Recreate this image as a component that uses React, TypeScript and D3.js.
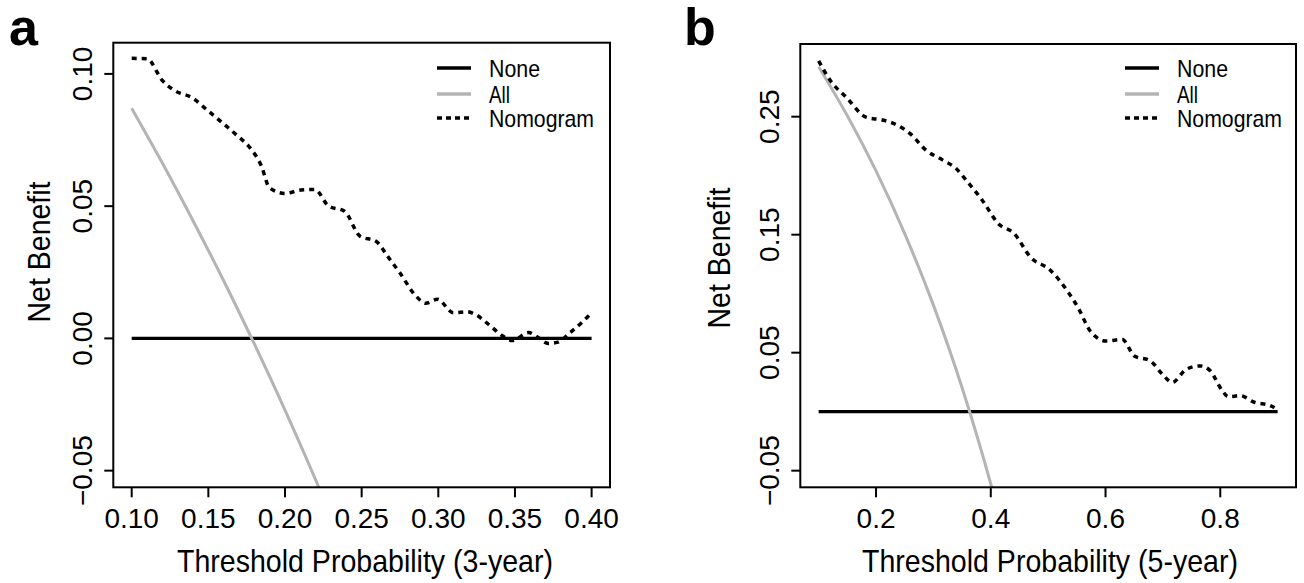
import React, { useEffect, useRef } from 'react'
import * as d3 from 'd3'

// 3-year panel (a)
const nomoAThreshold = [0.1, 0.11, 0.12, 0.128, 0.14, 0.1485, 0.159, 0.169, 0.177, 0.1846, 0.1898, 0.2, 0.2104, 0.2195, 0.2285, 0.2388, 0.249, 0.2594, 0.267, 0.275, 0.2853, 0.2917, 0.2994, 0.3098, 0.3188, 0.324, 0.334, 0.342, 0.3485, 0.3588, 0.3652, 0.3717, 0.378, 0.386, 0.3936, 0.4]
const nomoABenefit = [0.1059, 0.1057, 0.0975, 0.0937, 0.0908, 0.0867, 0.0816, 0.0766, 0.0722, 0.0652, 0.057, 0.0548, 0.0561, 0.0563, 0.05, 0.0481, 0.0386, 0.0367, 0.031, 0.0247, 0.0161, 0.0133, 0.0148, 0.0097, 0.0101, 0.0091, 0.0047, 0.0009, -0.0008, 0.0022, 0.0003, -0.0019, -0.0014, 0.0022, 0.006, 0.0097]
const allAThreshold = [0.1, 0.12, 0.14, 0.16, 0.18, 0.2, 0.22, 0.24]
const allABenefit = [0.087, 0.0663, 0.0445, 0.0218, -0.0021, -0.0271, -0.0535, -0.0812]
const noneAThreshold = [0.1, 0.4]
const noneABenefit = [0, 0]
const xTicksA = [0.1, 0.15, 0.2, 0.25, 0.3, 0.35, 0.4]
const yTicksA = [-0.05, 0, 0.05, 0.1]

// 5-year panel (b)
const nomoBThreshold = [0.1, 0.1206, 0.1484, 0.1833, 0.2111, 0.239, 0.2599, 0.2878, 0.3157, 0.34, 0.3575, 0.3854, 0.4132, 0.4411, 0.469, 0.5038, 0.5317, 0.5526, 0.5735, 0.6014, 0.6293, 0.6502, 0.6781, 0.699, 0.7164, 0.7408, 0.7652, 0.7826, 0.8035, 0.814, 0.835, 0.8593, 0.8871, 0.9]
const nomoBBenefit = [0.2973, 0.2804, 0.2663, 0.2494, 0.2472, 0.2424, 0.2354, 0.2213, 0.2134, 0.2058, 0.1959, 0.179, 0.1593, 0.1508, 0.1311, 0.1199, 0.1035, 0.0878, 0.0682, 0.0598, 0.0612, 0.0472, 0.043, 0.0318, 0.0248, 0.036, 0.0388, 0.0346, 0.0178, 0.0127, 0.0136, 0.008, 0.0052, 0.0015]
const allBThreshold = [0.1, 0.15, 0.2, 0.25, 0.3, 0.35, 0.4, 0.42]
const allBBenefit = [0.2924, 0.2508, 0.204, 0.1509, 0.0903, 0.0203, -0.0613, -0.0979]
const noneBThreshold = [0.1, 0.9]
const noneBBenefit = [0, 0]
const xTicksB = [0.2, 0.4, 0.6, 0.8]
const yTicksB = [-0.05, 0.05, 0.15, 0.25]

const legendLabels = ['None', 'All', 'Nomogram']

const FONT = '"Liberation Sans", Arial, Helvetica, sans-serif'

function drawPanel(svg, p) {
  const x = d3.scaleLinear().domain(p.xDomain).range([p.left, p.right])
  const y = d3.scaleLinear().domain(p.yDomain).range([p.bottom, p.top])
  const g = svg.append('g')

  // clip
  g.append('defs')
    .append('clipPath')
    .attr('id', 'clip-' + p.id)
    .append('rect')
    .attr('x', p.left)
    .attr('y', p.top)
    .attr('width', p.right - p.left)
    .attr('height', p.bottom - p.top)

  const line = d3
    .line()
    .x((d) => x(d[0]))
    .y((d) => y(d[1]))
    .curve(d3.curveMonotoneX)

  const plot = g.append('g').attr('clip-path', `url(#clip-${p.id})`)
  plot
    .append('path')
    .attr('d', line(d3.zip(p.noneX, p.noneY)))
    .attr('fill', 'none')
    .attr('stroke', '#000')
    .attr('stroke-width', 3.2)
  plot
    .append('path')
    .attr('d', line(d3.zip(p.allX, p.allY)))
    .attr('fill', 'none')
    .attr('stroke', '#b4b4b4')
    .attr('stroke-width', 3)
  plot
    .append('path')
    .attr('d', line(d3.zip(p.nomoX, p.nomoY)))
    .attr('fill', 'none')
    .attr('stroke', '#000')
    .attr('stroke-width', 3.5)
    .attr('stroke-dasharray', '5,5')

  // box
  g.append('rect')
    .attr('x', p.left)
    .attr('y', p.top)
    .attr('width', p.right - p.left)
    .attr('height', p.bottom - p.top)
    .attr('fill', 'none')
    .attr('stroke', '#000')
    .attr('stroke-width', 2)

  // x axis
  p.xTicks.forEach((t) => {
    g.append('line')
      .attr('x1', x(t))
      .attr('x2', x(t))
      .attr('y1', p.bottom)
      .attr('y2', p.bottom + 10)
      .attr('stroke', '#000')
      .attr('stroke-width', 2)
    g.append('text')
      .text(d3.format(p.xFmt)(t))
      .attr('x', x(t))
      .attr('y', 528)
      .attr('text-anchor', 'middle')
      .style('font-family', FONT)
      .style('font-size', '28px')
  })

  // y axis
  p.yTicks.forEach((t) => {
    g.append('line')
      .attr('x1', p.left - 9)
      .attr('x2', p.left)
      .attr('y1', y(t))
      .attr('y2', y(t))
      .attr('stroke', '#000')
      .attr('stroke-width', 2)
    g.append('text')
      .text(d3.format('.2f')(t))
      .attr('transform', `translate(${p.left - 21.5},${y(t)}) rotate(-90)`)
      .attr('text-anchor', 'middle')
      .style('font-family', FONT)
      .style('font-size', '28px')
  })

  // titles
  g.append('text')
    .text(p.xTitle)
    .attr('x', p.xTitleX)
    .attr('y', 572)
    .attr('text-anchor', 'middle')
    .attr('textLength', 376)
    .attr('lengthAdjust', 'spacingAndGlyphs')
    .style('font-family', FONT)
    .style('font-size', '32px')
  g.append('text')
    .text('Net Benefit')
    .attr('transform', `translate(${p.yTitleX},${p.yTitleY}) rotate(-90)`)
    .attr('text-anchor', 'middle')
    .attr('textLength', 141)
    .attr('lengthAdjust', 'spacingAndGlyphs')
    .style('font-family', FONT)
    .style('font-size', '32px')

  // panel letter
  g.append('text')
    .text(p.letter)
    .attr('x', p.letterX)
    .attr('y', 45)
    .style('font-family', FONT)
    .style('font-weight', 'bold')
    .style('font-size', '52px')

  // legend
  const legendStyles = [
    { stroke: '#000', width: 3.5, dash: null },
    { stroke: '#b4b4b4', width: 3.5, dash: null },
    { stroke: '#000', width: 3.5, dash: '5,4' }
  ]
  const legendY = [68, 94, 118]
  const legendW = [51, 21, 105]
  legendLabels.forEach((lab, i) => {
    const s = legendStyles[i]
    g.append('line')
      .attr('x1', p.legendX)
      .attr('x2', p.legendX + 34)
      .attr('y1', legendY[i])
      .attr('y2', legendY[i])
      .attr('stroke', s.stroke)
      .attr('stroke-width', s.width)
      .attr('stroke-dasharray', s.dash)
    g.append('text')
      .text(lab)
      .attr('x', p.legendX + 52)
      .attr('y', legendY[i] + 9)
      .attr('textLength', legendW[i])
      .attr('lengthAdjust', 'spacingAndGlyphs')
      .style('font-family', FONT)
      .style('font-size', '24px')
  })
}

const App = () => {
  const ref = useRef(null)
  useEffect(() => {
    const svg = d3.select(ref.current)
    svg.selectAll('*').remove()
    drawPanel(svg, {
      id: 'a',
      letter: 'a',
      letterX: 9,
      left: 113.3,
      right: 610,
      top: 42.7,
      bottom: 487.3,
      xDomain: [0.088, 0.412],
      yDomain: [-0.0563, 0.1118],
      nomoX: nomoAThreshold,
      nomoY: nomoABenefit,
      allX: allAThreshold,
      allY: allABenefit,
      noneX: noneAThreshold,
      noneY: noneABenefit,
      xTicks: xTicksA,
      yTicks: yTicksA,
      xFmt: '.2f',
      xTitle: 'Threshold Probability (3-year)',
      xTitleX: 365,
      yTitleX: 50,
      yTitleY: 252,
      legendX: 437
    })
    drawPanel(svg, {
      id: 'b',
      letter: 'b',
      letterX: 684,
      left: 800.3,
      right: 1296,
      top: 44,
      bottom: 487.3,
      xDomain: [0.068, 0.932],
      yDomain: [-0.0641, 0.3116],
      nomoX: nomoBThreshold,
      nomoY: nomoBBenefit,
      allX: allBThreshold,
      allY: allBBenefit,
      noneX: noneBThreshold,
      noneY: noneBBenefit,
      xTicks: xTicksB,
      yTicks: yTicksB,
      xFmt: '.1f',
      xTitle: 'Threshold Probability (5-year)',
      xTitleX: 1050,
      yTitleX: 730,
      yTitleY: 258,
      legendX: 1125
    })
  }, [])
  return (
    <svg
      ref={ref}
      width={1304}
      height={583}
      style={{ position: 'absolute', left: 0, top: 0, background: '#fff' }}
    />
  )
}

export default App
